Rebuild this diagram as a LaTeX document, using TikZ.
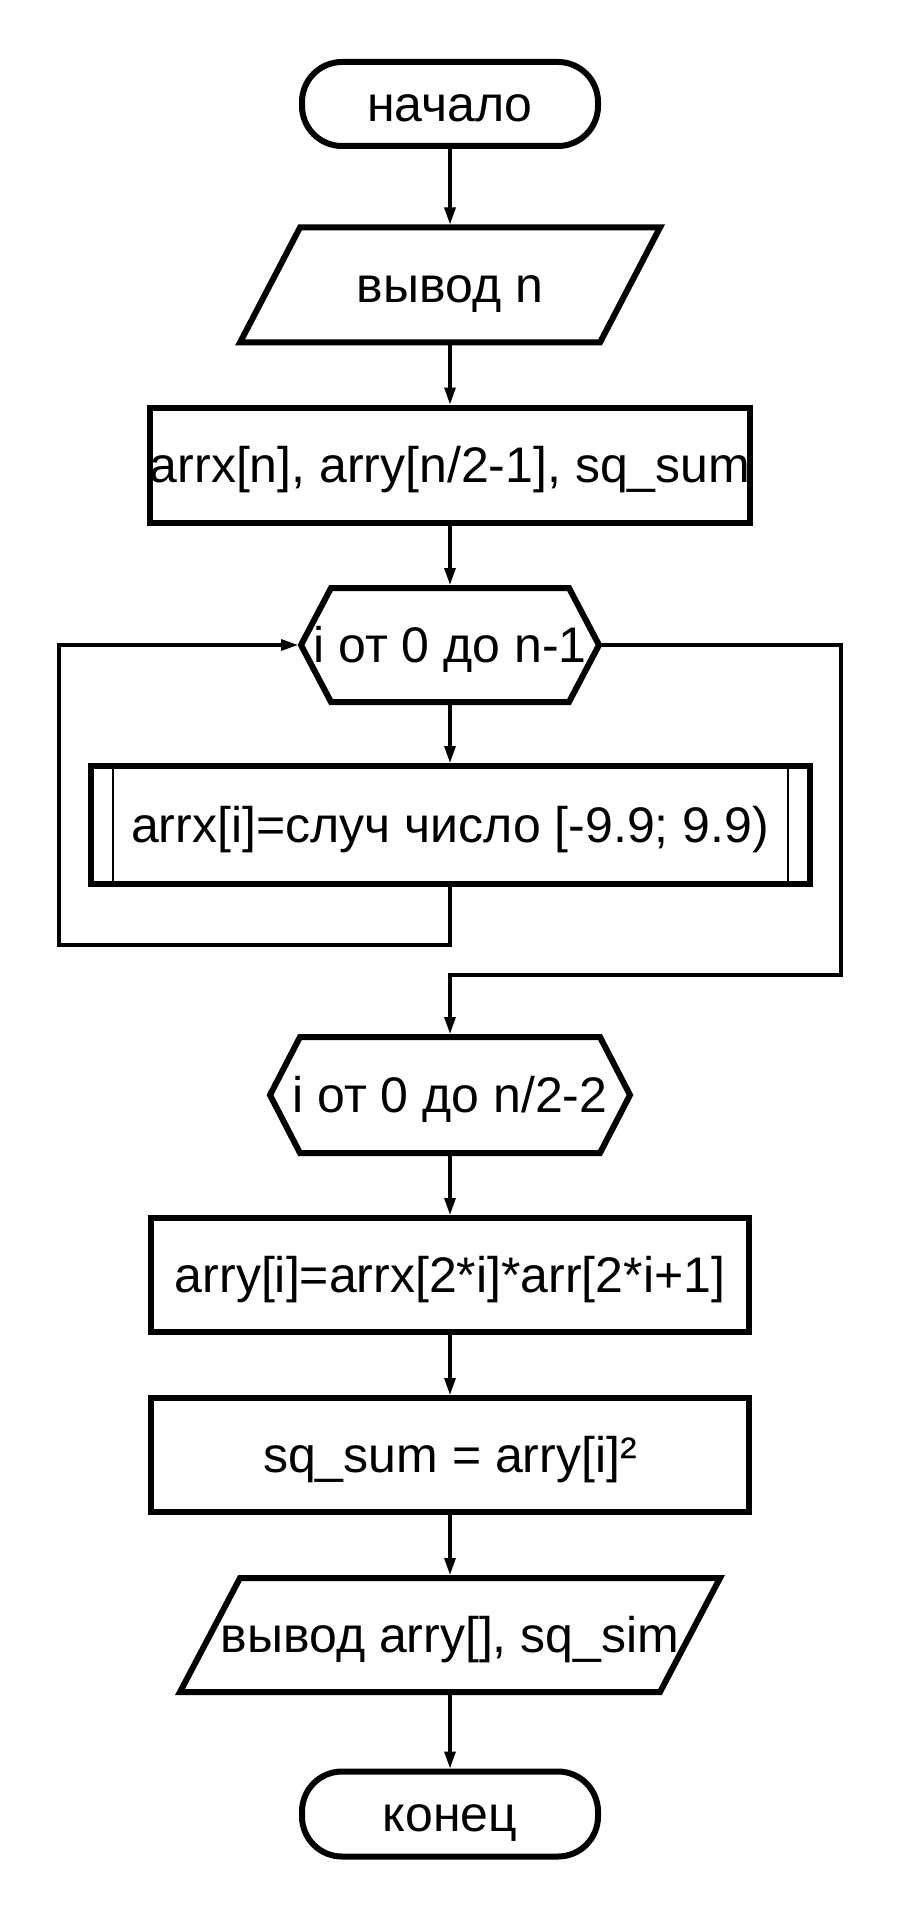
\documentclass[tikz,border=0pt]{standalone}
\usepackage{fontspec}
\setmainfont{Liberation Sans}
\usetikzlibrary{calc,arrows.meta}

\begin{document}
\begin{tikzpicture}[x=0.5pt,y=-0.5pt,
  every node/.style={font=\fontsize{25}{30}\selectfont, inner sep=0pt, outer sep=0pt,
    text height=17.4pt, text depth=0pt},
  blockline/.style={line width=3pt, line join=miter},
  thinline/.style={line width=1pt},
  proc/.style={draw, blockline, minimum width=299pt, minimum height=57.5pt},
  term/.style={draw, blockline, rounded corners=20pt, minimum width=148pt, minimum height=42pt},
  flow/.style={line width=1.6pt, -{Triangle[length=8.5pt,width=5.5pt]}, shorten >=1.5pt}]

% page
\fill[white] (0,0) rectangle (900,1920);
\useasboundingbox (0,0) rectangle (900,1920);

% blocks
\node[term] (start) at (450,104) {начало};

\node[minimum width=210pt, minimum height=57.5pt] (in1) at (450,285) {вывод n};
\draw[blockline] (in1.south west) -- ($(in1.north west)+(60,0)$) -- (in1.north east)
  -- ($(in1.south east)+(-60,0)$) -- cycle;

\node[proc] (decl) at (450,465) {arrx[n], arry[n/2-1], sq\_sum};

\node[minimum width=149pt, minimum height=57pt] (loop1) at (450,645) {i от 0 до n-1};
\draw[blockline] (loop1.west) -- ($(loop1.north west)+(30,0)$) -- ($(loop1.north east)+(-30,0)$)
  -- (loop1.east) -- ($(loop1.south east)+(-30,0)$) -- ($(loop1.south west)+(30,0)$) -- cycle;

\node[draw, blockline, minimum width=359.5pt, minimum height=59pt] (fill) at (450,825)
  {arrx[i]=случ число [-9.9; 9.9)};
\draw[thinline] ($(fill.north west)+(22,0)$) -- ($(fill.south west)+(22,0)$);
\draw[thinline] ($(fill.north east)+(-22,0)$) -- ($(fill.south east)+(-22,0)$);

\node[minimum width=180pt, minimum height=58pt] (loop2) at (450,1095) {i от 0 до n/2-2};
\draw[blockline] (loop2.west) -- ($(loop2.north west)+(30,0)$) -- ($(loop2.north east)+(-30,0)$)
  -- (loop2.east) -- ($(loop2.south east)+(-30,0)$) -- ($(loop2.south west)+(30,0)$) -- cycle;

\node[proc, minimum height=57pt] (prod) at (450,1275) {arry[i]=arrx[2*i]*arr[2*i+1]};
\node[proc, minimum height=57pt] (sq) at (450,1455) {sq\_sum = arry[i]²};

\node[minimum width=270pt, minimum height=57pt] (out) at (450,1635) {вывод arry[], sq\_sim};
\draw[blockline] (out.south west) -- ($(out.north west)+(60,0)$) -- (out.north east)
  -- ($(out.south east)+(-60,0)$) -- cycle;

\node[term, minimum height=42.5pt] (stop) at (450,1814) {конец};

% loop routing points
\coordinate (loopL) at (59,945);
\coordinate (exitR) at (841,975);

% connectors
\draw[flow] (start.south) -- (in1.north);
\draw[flow] (in1.south) -- (decl.north);
\draw[flow] (decl.south) -- (loop1.north);
\draw[flow] (loop1.south) -- (fill.north);
\draw[flow] (fill.south) |- (loopL) |- (loop1.west);
\draw[flow] (loop1.east) -| (exitR) -| (loop2.north);
\draw[flow] (loop2.south) -- (prod.north);
\draw[flow] (prod.south) -- (sq.north);
\draw[flow] (sq.south) -- (out.north);
\draw[flow] (out.south) -- (stop.north);
\end{tikzpicture}
\end{document}
